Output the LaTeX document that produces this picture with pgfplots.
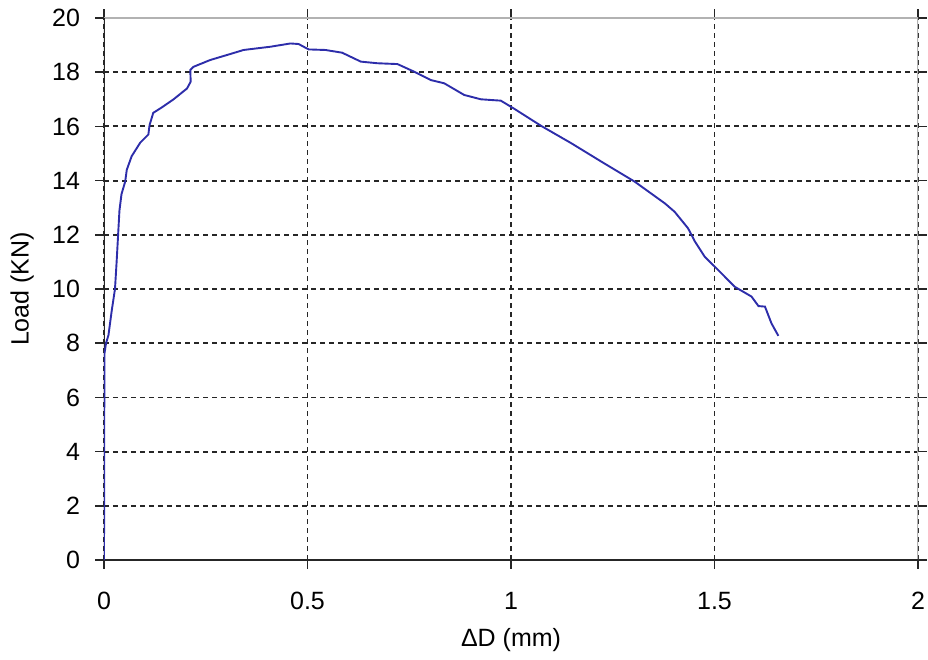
\documentclass[border=0pt]{standalone}
\usepackage{pgfplots}
\pgfplotsset{compat=1.18}
\usepackage{fontspec}
\setmainfont{Liberation Sans}
\definecolor{curve}{RGB}{45,45,170}
\begin{document}
\begin{tikzpicture}[x=1pt,y=1pt]
\path[use as bounding box] (-104,-99) rectangle (824,560);
\begin{axis}[
  at={(0,0)}, anchor=south west,
  scale only axis, width=814pt, height=542pt,
  xmin=0, xmax=2, ymin=0, ymax=20,
  xtick={0,0.5,1,1.5,2}, ytick={0,2,...,20},
  xticklabels={0,0.5,1,1.5,2},
  /pgf/number format/assume math mode=true,
  font=\fontsize{25}{29}\selectfont,
  tick label style={font=\fontsize{25}{29}\selectfont},
  tick align=outside, major tick length=8.5pt,
  tick style={black!85, line width=1.6pt},
  xticklabel style={yshift=-20pt},
  yticklabel style={xshift=-12pt},
  grid=major,
  major grid style={black!85, line width=1.8pt, dash pattern=on 5pt off 4pt},
  axis line style={draw=none},
  xlabel={ΔD (mm)}, ylabel={Load (KN)},
  xlabel style={at={(axis description cs:0.5,-0.148)}, anchor=center},
  ylabel style={at={(axis description cs:-0.1007,0.5)}, anchor=center},
]
\draw[gray!60, line width=2pt] (rel axis cs:0,1) -- (rel axis cs:1,1) -- (rel axis cs:1,0);
\draw[black!85, line width=2pt] (rel axis cs:0,1) -- (rel axis cs:0,0) -- (rel axis cs:1,0);
\addplot[curve, line width=1.9pt] coordinates {
(0,0) (0.001,7.6) (0.005,8.0) (0.011,8.3) (0.019,9.2) (0.027,10.0) (0.031,11.0)
(0.038,12.9) (0.043,13.5) (0.052,13.96) (0.056,14.4) (0.068,14.9) (0.089,15.4)
(0.109,15.7) (0.112,16.05) (0.121,16.5) (0.142,16.7) (0.171,17.0) (0.204,17.4)
(0.213,17.65) (0.212,18.08) (0.22,18.2) (0.261,18.45) (0.31,18.67) (0.343,18.82)
(0.409,18.94) (0.458,19.06) (0.478,19.04) (0.503,18.84) (0.544,18.82) (0.585,18.72)
(0.631,18.39) (0.672,18.33) (0.721,18.3) (0.762,18.02) (0.803,17.71) (0.836,17.59)
(0.885,17.16) (0.926,17.0) (0.975,16.95) (1.008,16.65) (1.074,16.02) (1.148,15.38)
(1.222,14.7) (1.304,13.96) (1.378,13.16) (1.402,12.85) (1.435,12.24) (1.452,11.75)
(1.476,11.19) (1.509,10.70) (1.55,10.08) (1.591,9.72) (1.608,9.37) (1.624,9.35)
(1.640,8.73) (1.657,8.27)
};
\end{axis}
\end{tikzpicture}
\end{document}
